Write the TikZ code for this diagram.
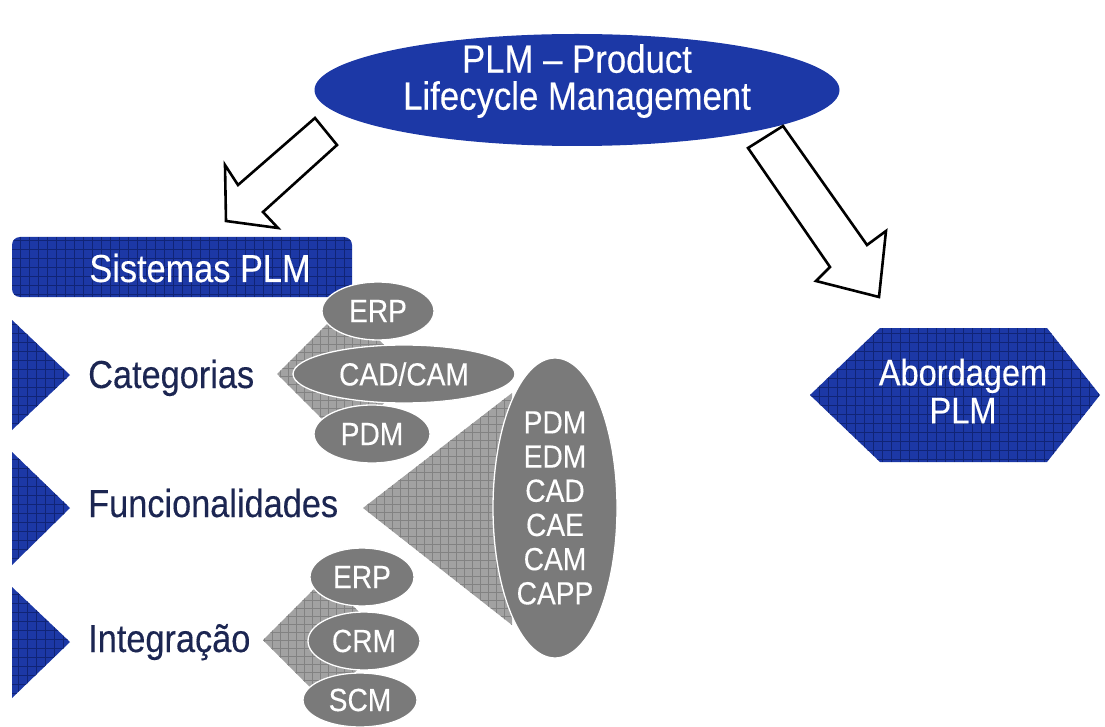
\documentclass[tikz,border=0pt]{standalone}
\usepackage{fontspec}
\setmainfont{Liberation Sans}[FakeStretch=0.88,FakeBold=0.25]
\usetikzlibrary{shapes.geometric}
\definecolor{plmblue}{RGB}{28,56,166}
\definecolor{gridblue}{RGB}{16,36,118}
\definecolor{navy}{RGB}{28,38,82}
\definecolor{ellgray}{RGB}{122,122,122}
\definecolor{diagray}{RGB}{162,162,162}
\definecolor{gridgray}{RGB}{130,130,130}
\tikzset{
  bluegrid/.style={fill=plmblue, path picture={\draw[gridblue, line width=0.6pt]
      (path picture bounding box.south west) grid[step=9pt] (path picture bounding box.north east);}},
  graygrid/.style={fill=diagray, path picture={\draw[gridgray, line width=0.7pt]
      (path picture bounding box.south west) grid[step=8pt] (path picture bounding box.north east);}},
  gell/.style={ellipse, fill=ellgray, draw=white, line width=1.3pt, text=white, inner sep=0pt,
      font=\fontsize{32}{34.2}\selectfont},
  lbl/.style={text=navy, anchor=base west, inner sep=0pt, font=\fontsize{39}{42}\selectfont},
  wtxt/.style={text=white, align=center, inner sep=0pt},
  hollow/.style={draw=black, fill=white, line width=2.6pt, line join=miter},
}
\begin{document}
\begin{tikzpicture}[x=1pt,y=-1pt]
\fill[white] (0,0) rectangle (1105,727);
\useasboundingbox (0,0) rectangle (1105,727);

% top ellipse
\node[ellipse, fill=plmblue, minimum width=525pt, minimum height=112pt, inner sep=0pt] (plm) at (577,90) {};
\node[wtxt, font=\fontsize{39.5}{37}\selectfont] (plmtext) at (577,81) {PLM -- Product\\Lifecycle Management};

% hollow arrows
\draw[hollow] (315,118) -- (238,185) -- (225,165) -- (226,221) -- (278,228) -- (263,212) -- (337,145) -- cycle;
\draw[hollow] (748,148) -- (830,267) -- (816,281) -- (879,297) -- (886,231) -- (867,245) -- (783,126) -- cycle;

% Sistemas PLM box
\node[bluegrid, rounded corners=8pt, minimum width=340pt, minimum height=60pt, inner sep=0pt] (sis) at (182,267) {};
\node[text=white, anchor=base, inner sep=0pt, font=\fontsize{39}{42}\selectfont] (sistext) at (200,282) {Sistemas PLM};

% blue triangles
\path[bluegrid] (12,320) -- (70,375) -- (12,430) -- cycle;
\path[bluegrid] (12,452) -- (70,508) -- (12,565) -- cycle;
\path[bluegrid] (12,587) -- (70,642) -- (12,698) -- cycle;

% labels
\node[lbl] (cat) at (88,388) {Categorias};
\node[lbl] (fun) at (88,517) {Funcionalidades};
\node[lbl] (int) at (88,652) {Integração};

% gray connectors
\path[graygrid] (277,374) -- (345,306) -- (413,374) -- (345,442) -- cycle;
\path[graygrid] (363,508) -- (512,393) -- (512,625) -- cycle;
\path[graygrid] (263,640) -- (325,578) -- (387,640) -- (325,702) -- cycle;

% categorias ellipses
\node[gell, minimum width=112pt, minimum height=58pt] (c1) at (378,311) {ERP};
\node[gell, minimum width=222pt, minimum height=58pt] (c2) at (404,374) {CAD/CAM};
\node[gell, minimum width=116pt, minimum height=58pt] (c3) at (372,434) {PDM};

% funcionalidades ellipse
\node[gell, minimum width=124pt, minimum height=300pt, align=center] (fn) at (555,508) {PDM\\EDM\\CAD\\CAE\\CAM\\CAPP};

% integracao ellipses
\node[gell, minimum width=104pt, minimum height=58pt] (i1) at (362,577) {ERP};
\node[gell, minimum width=112pt, minimum height=58pt] (i2) at (364,641) {CRM};
\node[gell, minimum width=114pt, minimum height=54pt] (i3) at (360,700) {SCM};

% Abordagem hexagon
\path[bluegrid] (810,395) -- (880,328) -- (1047,328) -- (1100,395) -- (1047,462) -- (880,462) -- cycle;
\node[wtxt, font=\fontsize{37}{38}\selectfont] (abord) at (963,391) {Abordagem\\PLM};
\end{tikzpicture}
\end{document}
